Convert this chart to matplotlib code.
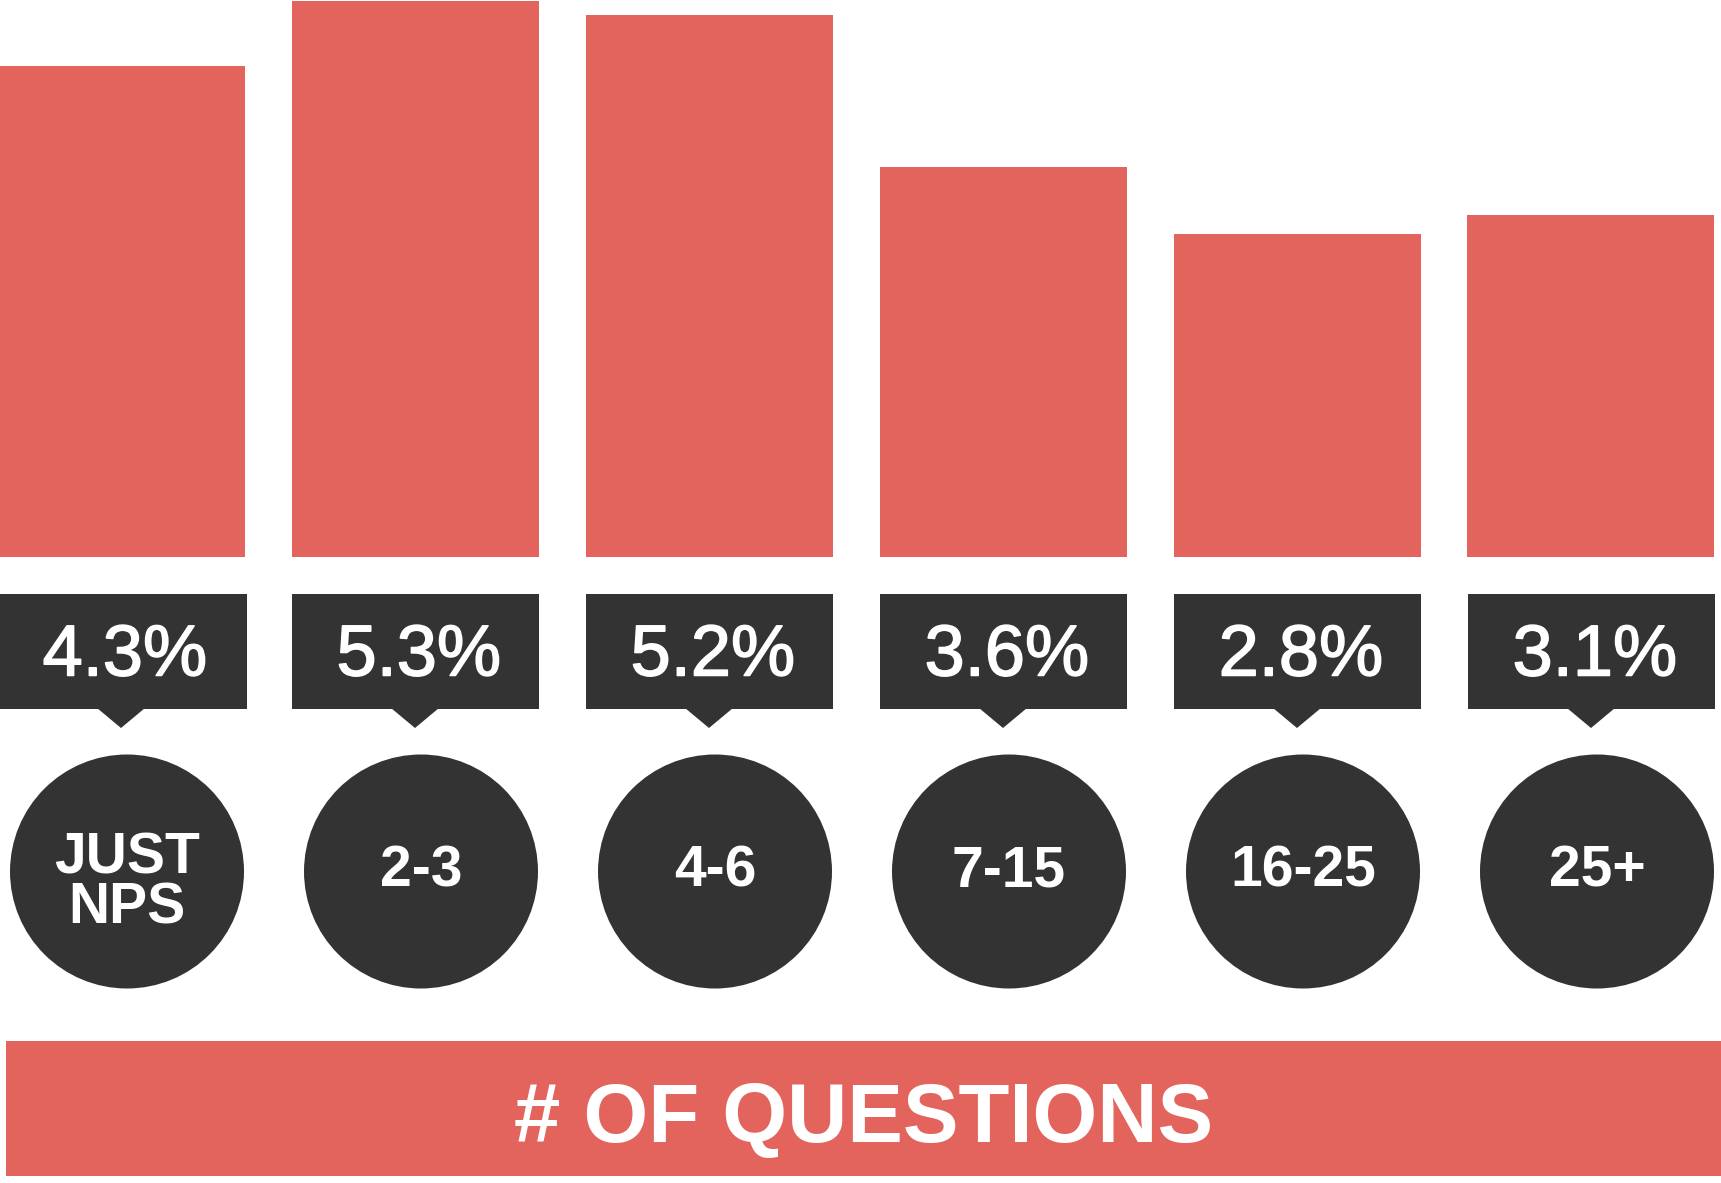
import matplotlib
matplotlib.use('Agg')
import matplotlib.pyplot as plt
from matplotlib.patches import Rectangle, Polygon, Circle
import matplotlib.patheffects as pe
import numpy as np

# ---- data ----
categories = ['JUST\nNPS', '2-3', '4-6', '7-15', '16-25', '25+']
rates = [4.3, 5.3, 5.2, 3.6, 2.8, 3.1]
rate_labels = [f'{r:.1f}%' for r in rates]
bar_heights = [4.68, 5.30, 5.17, 3.72, 3.08, 3.26]   # drawn bar heights
axis_title = '# OF QUESTIONS'

RED = '#E2645C'
DARK = '#333333'

W, H = 1721, 1183
fig = plt.figure(figsize=(W / 100, H / 100), dpi=100)
fig.patch.set_facecolor('white')

step = 294.0      # px between category centres
x0 = 121.0        # px centre of first category
bw = 247.0        # px bar / box width
xlim_cat = (-x0 / step, (W - x0) / step)

# ---- bars ----
base_px = 556.5
axb = fig.add_axes([0, 1 - base_px / H, 1, base_px / H])
x = np.arange(len(categories))
axb.bar(x, bar_heights, width=bw / step, color=RED, linewidth=0)
axb.set_xlim(*xlim_cat)
axb.set_ylim(0, base_px / 104.8)
axb.axis('off')

# ---- overlay (pixel units) ----
ax = fig.add_axes([0, 0, 1, 1])
ax.set_xlim(0, W)
ax.set_ylim(H, 0)
ax.axis('off')
ax.patch.set_alpha(0)

box_top, box_bot = 594.0, 709.0
ptr_w, ptr_h = 48.0, 19.0
circ_y, circ_r = 871.5, 117.0
thick = [pe.withStroke(linewidth=1.1, foreground='white')]

for i, (lab, cat) in enumerate(zip(rate_labels, categories)):
    cx = x0 + i * step
    bx = max(cx - bw / 2, 0)
    ax.add_patch(Rectangle((bx, box_top), bw, box_bot - box_top,
                           facecolor=DARK, edgecolor='none'))
    ax.add_patch(Polygon([(cx - ptr_w / 2, box_bot - 1), (cx + ptr_w / 2, box_bot - 1),
                          (cx, box_bot + ptr_h)], closed=True,
                         facecolor=DARK, edgecolor='none'))
    ax.text(cx + 4, 675.5, lab, ha='center', va='baseline', color='white',
            fontsize=52, family='Liberation Sans', fontweight='normal',
            path_effects=thick)
    ccx = cx + 6
    ax.add_patch(Circle((ccx, circ_y), circ_r, facecolor=DARK, edgecolor='none'))
    nlines = cat.count('\n') + 1
    ax.text(ccx, circ_y + (12 if nlines > 1 else 0), cat, ha='center', va='center',
            color='white', fontsize=41, family='Liberation Sans', fontweight='bold',
            linespacing=0.9)

# ---- axis title banner ----
ax.add_patch(Rectangle((5.5, 1040.5), W - 5.5, 1176 - 1040.5,
                       facecolor=RED, edgecolor='none'))
ax.text((5.5 + W) / 2, 1141.5, axis_title, ha='center', va='baseline',
        color='white', fontsize=60, family='Liberation Sans', fontweight='bold')

fig.savefig('out.png', dpi=100, facecolor='white')
